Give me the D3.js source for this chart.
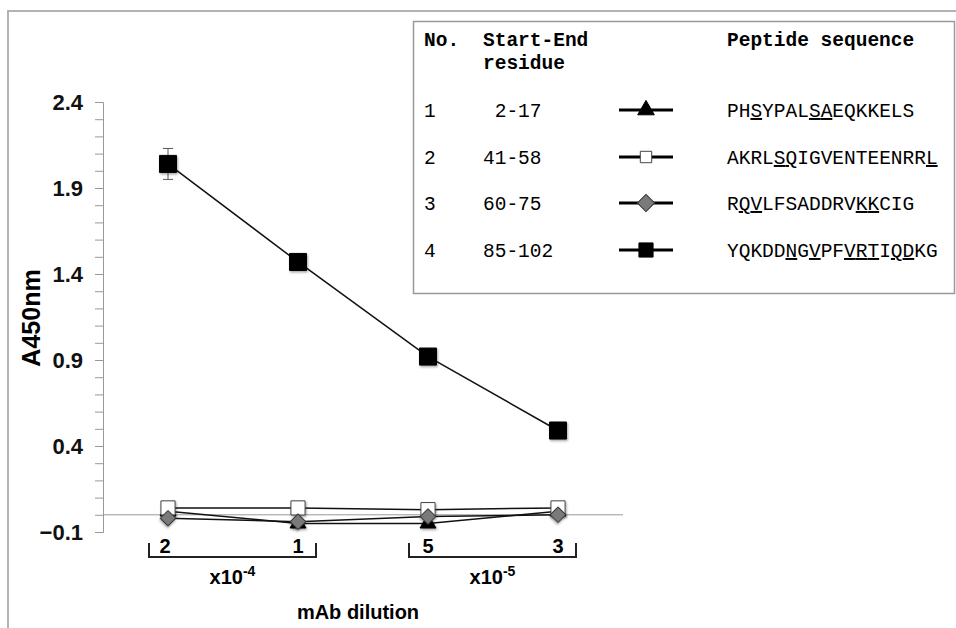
<!DOCTYPE html>
<html>
<head>
<meta charset="utf-8">
<script src="https://cdn.jsdelivr.net/npm/d3@7"></script>
<style>
  body { margin: 0; background: #fff; }
  svg { display: block; }
</style>
</head>
<body>
<script>
// dilutions (x10-4 : 2, 1 ; x10-5 : 5, 3)
let dilutions = ["2", "1", "5", "3"];
let peptide1 = [0.02, -0.05, -0.05, 0.02];
let peptide2 = [0.04, 0.04, 0.03, 0.04];
let peptide3 = [-0.02, -0.04, -0.01, 0.0];
let peptide4 = [2.04, 1.47, 0.92, 0.49];
let peptide4Err = [0.09, 0, 0, 0];
let yTicks = [-0.1, 0.4, 0.9, 1.4, 1.9, 2.4];

let legNo = ["1", "2", "3", "4"];
let legRange = [" 2-17", "41-58", "60-75", "85-102"];
let legSeq = ["PHSYPALSAEQKKELS", "AKRLSQIGVENTEENRRL", "RQVLFSADDRVKKCIG", "YQKDDNGVPFVRTIQDKG"];
let legUnder = [[2, 7, 8], [4, 5, 17], [1, 2, 11, 12], [5, 7, 10, 11, 12, 14, 15]];

function graficar() {
  let w = 956;
  let h = 628;
  let svg = d3.select("body").append("svg").attr("width", w).attr("height", h);
  let sans = "Liberation Sans, Arial, sans-serif";

  let x = d3.scalePoint().domain(dilutions).range([168, 558]);
  let y = d3.scaleLinear().domain([-0.1, 2.4]).range([532, 102]);

  // marco exterior
  svg.append("path")
    .attr("d", "M8,628 L8,11 L956,11")
    .attr("fill", "none").attr("stroke", "#b3b3b3").attr("stroke-width", 2);

  // eje y
  let ejeY = svg.append("g")
    .attr("transform", "translate(103,0)")
    .call(d3.axisLeft(y)
      .tickValues(d3.range(0, 26).map(i => -0.1 + i * 0.1))
      .tickSize(8).tickPadding(12)
      .tickFormat(d => yTicks.some(t => Math.abs(t - d) < 1e-6) ? d3.format(".1f")(d) : ""));
  ejeY.select(".domain").attr("stroke", "#999");
  ejeY.selectAll(".tick line").attr("stroke", "#999");
  ejeY.selectAll(".tick text")
    .attr("font-family", sans)
    .attr("font-weight", "bold").attr("font-size", 22).attr("fill", "#111");

  svg.append("text")
    .attr("transform", "translate(40,318) rotate(-90)")
    .attr("text-anchor", "middle")
    .attr("font-family", sans)
    .attr("font-weight", "bold").attr("font-size", 25)
    .text("A450nm");

  // linea del cero
  svg.append("line")
    .attr("x1", 103).attr("x2", 623)
    .attr("y1", y(0)).attr("y2", y(0))
    .attr("stroke", "#999").attr("stroke-width", 1);

  // sombra de los marcadores
  let defs = svg.append("defs");
  let f = defs.append("filter").attr("id", "sombra").attr("x", "-50%").attr("y", "-50%").attr("width", "200%").attr("height", "200%");
  f.append("feDropShadow").attr("dx", 1).attr("dy", 1.5).attr("stdDeviation", 1.2)
    .attr("flood-color", "#000").attr("flood-opacity", 0.35);

  let series = [
    { vals: peptide1, sym: d3.symbolTriangle, size: 110, fill: "#000", stroke: "#000", rot: 0 },
    { vals: peptide2, sym: d3.symbolSquare, size: 200, fill: "#fff", stroke: "#444", rot: 0 },
    { vals: peptide3, sym: d3.symbolSquare, size: 120, fill: "#7a7a7a", stroke: "#333", rot: 45 },
    { vals: peptide4, sym: d3.symbolSquare, size: 290, fill: "#000", stroke: "#000", rot: 0 }
  ];

  let linea = d3.line().x((d, i) => x(dilutions[i])).y(d => y(d));

  series.forEach(s => {
    svg.append("path")
      .attr("d", linea(s.vals))
      .attr("fill", "none").attr("stroke", "#111").attr("stroke-width", 1.5);
  });

  // barra de error
  peptide4Err.forEach((e, i) => {
    if (!e) return;
    let cx = x(dilutions[i]);
    let g = svg.append("g").attr("stroke", "#555").attr("stroke-width", 1);
    g.append("line").attr("x1", cx).attr("x2", cx).attr("y1", y(peptide4[i] + e)).attr("y2", y(peptide4[i] - e));
    g.append("line").attr("x1", cx - 5).attr("x2", cx + 5).attr("y1", y(peptide4[i] + e)).attr("y2", y(peptide4[i] + e));
    g.append("line").attr("x1", cx - 5).attr("x2", cx + 5).attr("y1", y(peptide4[i] - e)).attr("y2", y(peptide4[i] - e));
  });

  series.forEach(s => {
    svg.append("g").selectAll("path")
      .data(s.vals)
      .enter()
      .append("path")
      .attr("d", d3.symbol().type(s.sym).size(s.size))
      .attr("transform", (d, i) => "translate(" + x(dilutions[i]) + "," + y(d) + ") rotate(" + s.rot + ")")
      .attr("fill", s.fill).attr("stroke", s.stroke).attr("stroke-width", 1)
      .attr("filter", "url(#sombra)");
  });

  // etiquetas del eje x
  svg.selectAll(".xlab")
    .data(dilutions)
    .enter()
    .append("text")
    .attr("x", (d, i) => x(d) + (i === 0 ? -3 : 0)).attr("y", 553)
    .attr("text-anchor", "middle")
    .attr("font-family", sans)
    .attr("font-weight", "bold").attr("font-size", 20)
    .text(d => d);

  // corchetes
  let grupos = [[dilutions[0], dilutions[1], "-4"], [dilutions[2], dilutions[3], "-5"]];
  grupos.forEach(gp => {
    let x1 = x(gp[0]) - 19;
    let x2 = x(gp[1]) + 18;
    svg.append("path")
      .attr("d", "M" + x1 + ",543 L" + x1 + ",557 L" + x2 + ",557 L" + x2 + ",543")
      .attr("fill", "none").attr("stroke", "#222").attr("stroke-width", 2);
    let t = svg.append("text")
      .attr("x", (x1 + x2) / 2).attr("y", 584)
      .attr("text-anchor", "middle")
      .attr("font-family", sans)
      .attr("font-weight", "bold").attr("font-size", 20);
    t.append("tspan").text("x10");
    t.append("tspan").attr("dy", -8).attr("font-size", 14).text(gp[2]);
  });

  svg.append("text")
    .attr("x", 358).attr("y", 619)
    .attr("text-anchor", "middle")
    .attr("font-family", sans)
    .attr("font-weight", "bold").attr("font-size", 20)
    .text("mAb dilution");

  // leyenda
  let leg = svg.append("g").attr("font-family", "Liberation Mono, Courier New, monospace").attr("font-size", 19.5);
  leg.append("rect")
    .attr("x", 413.5).attr("y", 21.5).attr("width", 541).attr("height", 272)
    .attr("fill", "#fff").attr("stroke", "#999").attr("stroke-width", 1.5);

  leg.append("text").attr("x", 424).attr("y", 46).attr("font-weight", "bold").text("No.");
  leg.append("text").attr("x", 483).attr("y", 46).attr("font-weight", "bold").text("Start-End");
  leg.append("text").attr("x", 483).attr("y", 69).attr("font-weight", "bold").text("residue");
  leg.append("text").attr("x", 727).attr("y", 46).attr("font-weight", "bold").text("Peptide sequence");

  let filasY = [117, 164, 210, 257];
  legNo.forEach((n, i) => {
    let fy = filasY[i];
    leg.append("text").attr("x", 424).attr("y", fy).text(n);
    leg.append("text").attr("x", 483).attr("y", fy).attr("xml:space", "preserve").style("white-space", "pre").text(legRange[i]);

    let s = series[i];
    let cy = fy - 7;
    leg.append("line").attr("x1", 619).attr("x2", 673).attr("y1", cy).attr("y2", cy)
      .attr("stroke", "#000").attr("stroke-width", 3);
    let sz = [120, 130, 150, 200][i];
    leg.append("path")
      .attr("d", d3.symbol().type(s.sym).size(sz))
      .attr("transform", "translate(646," + cy + ") rotate(" + s.rot + ")")
      .attr("fill", s.fill).attr("stroke", s.stroke).attr("stroke-width", 1);

    let t = leg.append("text").attr("x", 727).attr("y", fy);
    legSeq[i].split("").forEach((c, k) => {
      t.append("tspan")
        .style("text-decoration", legUnder[i].includes(k) ? "underline" : "none")
        .text(c);
    });
  });
}

graficar();
</script>
</body>
</html>
